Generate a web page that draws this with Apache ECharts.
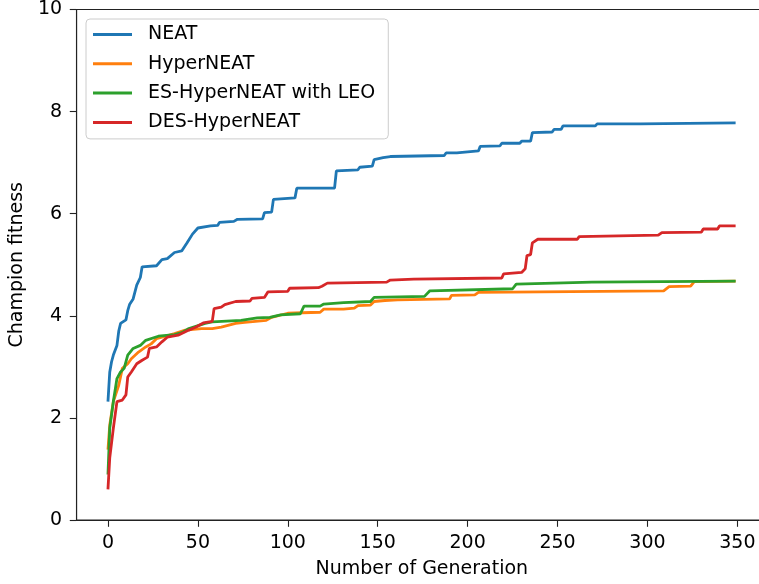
<!DOCTYPE html>
<html>
<head>
<meta charset="utf-8">
<script src="https://cdn.jsdelivr.net/npm/echarts@6/dist/echarts.min.js"></script>
<style>
  html, body { margin: 0; padding: 0; background: #fff; }
  /* the chart is a bit wider than the frame so the right spine is cut off, like the original */
  #frame { width: 759px; height: 584px; overflow: hidden; position: relative; }
  #chart { width: 767px; height: 584px; position: absolute; left: 0; top: 0; }
</style>
</head>
<body>
<div id="frame"><div id="chart"></div></div>
<script>
// series names and colours (matplotlib tab10)
const seriesNames = ['NEAT', 'HyperNEAT', 'ES-HyperNEAT with LEO', 'DES-HyperNEAT']
const seriesColors = ['#1f77b4', '#ff7f0e', '#2ca02c', '#d62728']

// tick labels
const xTicks = [0, 50, 100, 150, 200, 250, 300, 350]

// champion fitness per generation at the corners
const neatGen = [0, 1, 2, 3, 5, 6, 7, 10, 11, 12, 14, 16, 18, 19, 27, 30, 33, 37, 41, 44, 47, 50, 57, 61, 62, 70, 72, 86, 87, 91, 92, 104, 105, 126, 127, 139, 140, 147, 148, 153, 157, 187, 188, 194, 195, 206, 207, 218, 219, 229, 230, 235, 236, 247, 248, 252, 253, 271, 272, 296, 297, 349]
const neatFit = [2.32, 2.9, 3.1, 3.23, 3.42, 3.7, 3.85, 3.92, 4.1, 4.22, 4.33, 4.6, 4.75, 4.96, 4.98, 5.1, 5.12, 5.24, 5.27, 5.43, 5.6, 5.72, 5.76, 5.77, 5.83, 5.85, 5.89, 5.9, 6.02, 6.03, 6.28, 6.31, 6.5, 6.5, 6.84, 6.86, 6.91, 6.93, 7.06, 7.1, 7.12, 7.14, 7.19, 7.19, 7.22, 7.23, 7.32, 7.33, 7.38, 7.38, 7.42, 7.42, 7.59, 7.6, 7.65, 7.65, 7.72, 7.72, 7.76, 7.76, 7.77, 7.78]

const hyperGen = [0, 1, 3, 6, 8, 11, 13, 17, 21, 24, 27, 37, 43, 52, 58, 63, 71, 76, 88, 91, 100, 108, 118, 120, 131, 137, 139, 146, 148, 154, 161, 162, 190, 191, 204, 206, 309, 312, 324, 326, 349]
const hyperFit = [1.38, 1.86, 2.32, 2.64, 2.97, 3.06, 3.16, 3.29, 3.39, 3.45, 3.55, 3.65, 3.72, 3.75, 3.75, 3.78, 3.85, 3.87, 3.91, 3.97, 4.05, 4.06, 4.07, 4.13, 4.13, 4.15, 4.2, 4.21, 4.28, 4.3, 4.31, 4.33, 4.33, 4.4, 4.41, 4.46, 4.49, 4.57, 4.58, 4.67, 4.68]

const esGen = [0, 1, 3, 5, 7, 9, 11, 14, 18, 21, 28, 37, 41, 45, 54, 58, 74, 75, 83, 90, 96, 107, 109, 118, 120, 131, 146, 148, 176, 179, 225, 227, 269, 270, 349]
const esFit = [0.89, 1.8, 2.32, 2.77, 2.9, 2.97, 3.23, 3.36, 3.42, 3.52, 3.6, 3.63, 3.67, 3.75, 3.85, 3.88, 3.91, 3.94, 3.96, 3.97, 4.02, 4.04, 4.19, 4.19, 4.23, 4.26, 4.28, 4.36, 4.38, 4.49, 4.53, 4.62, 4.66, 4.68, 4.68]

const desGen = [0, 1, 3, 5, 8, 10, 11, 13, 16, 19, 22, 23, 27, 30, 33, 39, 45, 49, 53, 58, 59, 63, 65, 71, 79, 80, 87, 89, 100, 101, 117, 119, 122, 155, 157, 170, 219, 220, 230, 232, 233, 235, 236, 239, 261, 262, 306, 308, 330, 331, 339, 340, 349]
const desFit = [0.6, 1.22, 1.8, 2.32, 2.35, 2.45, 2.8, 2.9, 3.06, 3.13, 3.19, 3.36, 3.39, 3.49, 3.58, 3.62, 3.72, 3.78, 3.86, 3.89, 4.14, 4.17, 4.22, 4.28, 4.29, 4.34, 4.36, 4.47, 4.48, 4.54, 4.55, 4.58, 4.64, 4.66, 4.7, 4.72, 4.74, 4.82, 4.85, 4.92, 5.18, 5.2, 5.43, 5.5, 5.5, 5.55, 5.58, 5.63, 5.64, 5.7, 5.7, 5.76, 5.76]

const gens = [neatGen, hyperGen, esGen, desGen]
const fits = [neatFit, hyperFit, esFit, desFit]

const font = 'DejaVu Sans'
const ink = '#000'

const chartInstance = echarts.init(document.getElementById('chart'))

const chartOption = {
    animation: false,
    textStyle: { fontFamily: font },
    grid: {
        left: 76,
        top: 9,
        right: 0,
        bottom: 61.5,
        show: true,
        borderColor: '#222',
        borderWidth: 1.1,
        backgroundColor: 'transparent'
    },
    legend: {
        data: seriesNames,
        orient: 'vertical',
        left: 86,
        top: 19,
        icon: 'rect',
        itemWidth: 39,
        itemHeight: 3,
        itemGap: 10.3,
        padding: [6, 13, 7, 7],
        borderColor: '#cccccc',
        borderWidth: 1,
        borderRadius: 4,
        backgroundColor: 'rgba(255,255,255,0.8)',
        textStyle: {
            fontFamily: font,
            fontSize: 19,
            color: ink,
            padding: [0, 0, 0, 11]
        }
    },
    xAxis: {
        type: 'value',
        min: -17.45,
        max: 366.45,
        name: 'Number of Generation',
        nameLocation: 'middle',
        nameGap: 40,
        nameTextStyle: { fontFamily: font, fontSize: 19, color: ink },
        splitLine: { show: false },
        axisLine: { show: true, onZero: false, lineStyle: { color: '#222', width: 1.1 } },
        axisTick: {
            show: true,
            length: 6.8,
            customValues: xTicks,
            lineStyle: { color: '#222', width: 1.1 }
        },
        axisLabel: {
            customValues: xTicks,
            margin: 14,
            fontFamily: font,
            fontSize: 19,
            color: ink
        }
    },
    yAxis: {
        type: 'value',
        min: 0,
        max: 10,
        interval: 2,
        name: 'Champion fitness',
        nameLocation: 'middle',
        nameGap: 49,
        nameTextStyle: { fontFamily: font, fontSize: 19, color: ink },
        splitLine: { show: false },
        axisLine: { show: true, onZero: false, lineStyle: { color: '#222', width: 1.1 } },
        axisTick: { show: true, length: 6.8, lineStyle: { color: '#222', width: 1.1 } },
        axisLabel: {
            margin: 14.5,
            fontFamily: font,
            fontSize: 19,
            color: ink
        }
    },
    series: seriesNames.map((name, i) => ({
        name: name,
        type: 'line',
        data: gens[i].map((g, j) => [g, fits[i][j]]),
        showSymbol: false,
        symbol: 'none',
        color: seriesColors[i],
        lineStyle: { color: seriesColors[i], width: 2.8 },
        emphasis: { disabled: true }
    }))
}

chartInstance.setOption(chartOption)
</script>
</body>
</html>
